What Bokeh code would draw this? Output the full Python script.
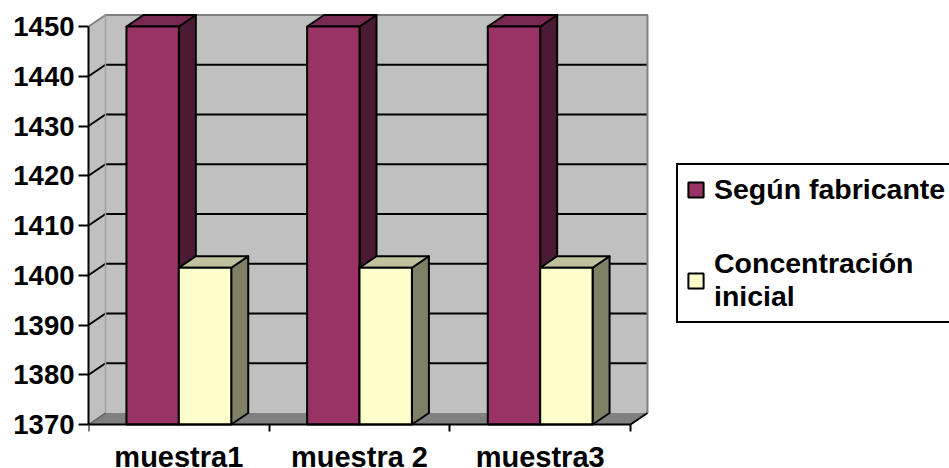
from bokeh.plotting import figure
from bokeh.models import Range1d, FixedTicker, Legend, LegendItem, ColumnDataSource
from bokeh.embed import file_html
from bokeh.resources import INLINE

# ---- data ----
categories = ["muestra1", "muestra 2", "muestra3"]
series_names = ["Según fabricante", "Concentración inicial"]
segun_fabricante = [1450, 1450, 1450]
concentracion_inicial = [1401.5, 1401.5, 1401.5]
y_ticks = [1370, 1380, 1390, 1400, 1410, 1420, 1430, 1440, 1450]

# ---- layout / style ----
W, H = 949, 468
AX_LEFT, AX_RIGHT, AX_BOTTOM, AX_TOP = 88, 630, 424, 26   # pixel frame of the axes
Y_MIN, Y_MAX = y_ticks[0], y_ticks[-1]
N = len(categories)
px_x = (AX_RIGHT - AX_LEFT) / N
px_y = (AX_BOTTOM - AX_TOP) / (Y_MAX - Y_MIN)
x_end = (W - AX_LEFT) / px_x
y_start = Y_MIN - (H - AX_BOTTOM) / px_y
y_end = Y_MAX + AX_TOP / px_y

DX = 17 / px_x      # depth offset (category units)
DY = 11.5 / px_y    # depth offset (value units)
BAR_W = 0.29
GROUP_START = 0.21
FONT = "Liberation Sans"
front_colors = ["#993366", "#FFFFCC"]
top_colors = ["#77294F", "#C1C19F"]
side_colors = ["#4B1A33", "#808066"]

p = figure(width=W, height=H, output_backend="svg", toolbar_location=None,
           x_range=Range1d(0, x_end), y_range=Range1d(y_start, y_end),
           min_border=0, min_border_left=AX_LEFT)
p.outline_line_color = None
p.grid.visible = False
p.background_fill_color = "white"
p.border_fill_color = "white"

# ---- walls ----
p.quad(left=[DX], right=[N + DX], bottom=[Y_MIN + DY], top=[Y_MAX + DY],
       fill_color="#C0C0C0", line_color=None)
p.patch([0, DX, DX, 0], [Y_MIN, Y_MIN + DY, Y_MAX + DY, Y_MAX],
        fill_color="#C0C0C0", line_color=None)
p.patch([0, N, N + DX, DX], [Y_MIN, Y_MIN, Y_MIN + DY, Y_MIN + DY],
        fill_color="#808080", line_color=None)

inner = y_ticks[1:-1]
p.segment(x0=[DX] * len(inner), y0=[t + DY for t in inner],
          x1=[N + DX] * len(inner), y1=[t + DY for t in inner],
          line_color="black", line_width=2)
p.segment(x0=[0] * len(inner), y0=inner,
          x1=[DX] * len(inner), y1=[t + DY for t in inner],
          line_color="black", line_width=2)
# wall edges
p.line([0, DX, N + DX, N + DX], [Y_MAX, Y_MAX + DY, Y_MAX + DY, Y_MIN + DY],
       line_color="#808080", line_width=2)
p.line([DX, DX], [Y_MIN + DY, Y_MAX + DY], line_color="#A0A0A0", line_width=1.5)
p.line([0, DX], [Y_MIN, Y_MIN + DY], line_color="#606060", line_width=1.5)
p.line([N, N + DX], [Y_MIN, Y_MIN + DY], line_color="black", line_width=2)

# ---- bars ----
front_renderers = []
for s, vals in enumerate([segun_fabricante, concentracion_inicial]):
    lefts = [i + GROUP_START + s * BAR_W for i in range(N)]
    rights = [l + BAR_W for l in lefts]
    side_xs = [[r, r + DX, r + DX, r] for r in rights]
    side_ys = [[Y_MIN, Y_MIN + DY, v + DY, v] for v in vals]
    p.patches(side_xs, side_ys, fill_color=side_colors[s], line_color="black",
              line_width=2, line_join="round")
    top_xs = [[l, r, r + DX, l + DX] for l, r in zip(lefts, rights)]
    top_ys = [[v, v, v + DY, v + DY] for v in vals]
    p.patches(top_xs, top_ys, fill_color=top_colors[s], line_color="black",
              line_width=2, line_join="round")
    src = ColumnDataSource(dict(left=lefts, right=rights, top=vals,
                                bottom=[Y_MIN] * N))
    r = p.quad(left="left", right="right", top="top", bottom="bottom", source=src,
               fill_color=front_colors[s], line_color="black", line_width=2)
    front_renderers.append(r)

# ---- axes ----
ya = p.yaxis[0]
ya.ticker = FixedTicker(ticks=y_ticks)
ya.bounds = (Y_MIN, Y_MAX)
ya.axis_line_color = "black"
ya.axis_line_width = 2
ya.major_tick_line_width = 2
ya.major_tick_out = 10
ya.major_tick_in = 0
ya.minor_tick_line_color = None
ya.major_label_standoff = 4
ya.major_label_text_font = FONT
ya.major_label_text_font_style = "bold"
ya.major_label_text_font_size = "27.5px"
ya.major_label_text_color = "black"

xa = p.xaxis[0]
xa.fixed_location = Y_MIN
xa.ticker = FixedTicker(ticks=[i + 0.5 for i in range(N)],
                        minor_ticks=list(range(N + 1)))
xa.major_label_overrides = {i + 0.5: c for i, c in enumerate(categories)}
xa.bounds = (0, N)
xa.axis_line_color = "black"
xa.axis_line_width = 2
xa.major_tick_line_color = None
xa.major_tick_out = 0
xa.major_tick_in = 0
xa.minor_tick_line_color = "black"
xa.minor_tick_line_width = 2
xa.minor_tick_out = 7
xa.minor_tick_in = 0
xa.major_label_standoff = 9
xa.major_label_text_font = FONT
xa.major_label_text_font_style = "bold"
xa.major_label_text_font_size = "29px"
xa.major_label_text_color = "black"

# ---- legend ----
LEG_LEFT, LEG_BOTTOM = 676, 323
legend = Legend(items=[LegendItem(label=series_names[0], renderers=[front_renderers[0]]),
                       LegendItem(label="Concentración\ninicial", renderers=[front_renderers[1]])],
                location=(LEG_LEFT - AX_LEFT, H - LEG_BOTTOM))
legend.border_line_color = "black"
legend.border_line_alpha = 1
legend.border_line_width = 2
legend.background_fill_color = "white"
legend.background_fill_alpha = 1
legend.label_text_font = FONT
legend.label_text_font_style = "bold"
legend.label_text_font_size = "28.5px"
legend.label_text_color = "black"
legend.label_width = 245
legend.glyph_width = 19
legend.glyph_height = 19
legend.label_standoff = 9
legend.padding = 8
legend.spacing = 41
p.add_layout(legend)

open("out.html", "w").write(file_html(p, INLINE))
